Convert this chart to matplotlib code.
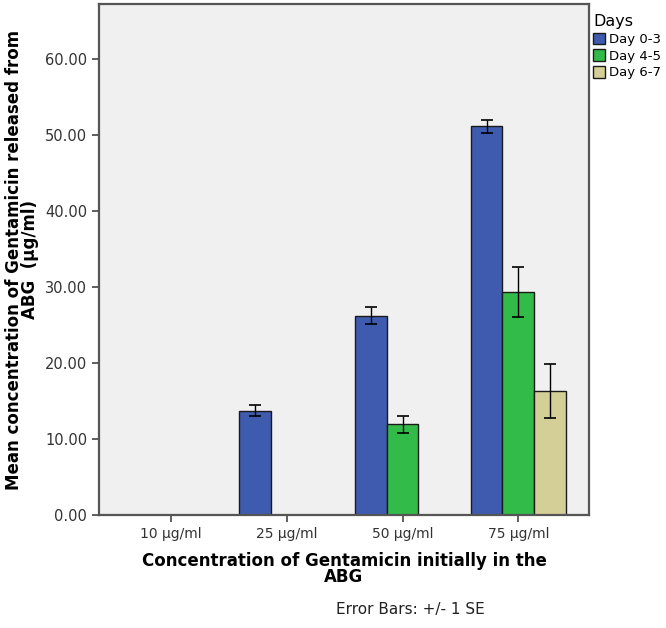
import matplotlib
matplotlib.use("Agg")
import matplotlib.pyplot as plt
import numpy as np
from matplotlib.patches import Patch

categories = ['10 µg/ml', '25 µg/ml', '50 µg/ml', '75 µg/ml']
days = ['Day 0-3', 'Day 4-5', 'Day 6-7']
# nan = no bar drawn for that group
means = {
    'Day 0-3': [np.nan, 13.7, 26.2, 51.1],
    'Day 4-5': [np.nan, np.nan, 11.9, 29.3],
    'Day 6-7': [np.nan, np.nan, np.nan, 16.3],
}
errors = {
    'Day 0-3': [np.nan, 0.7, 1.1, 0.85],
    'Day 4-5': [np.nan, np.nan, 1.15, 3.3],
    'Day 6-7': [np.nan, np.nan, np.nan, 3.6],
}
colors = {'Day 0-3': '#3f5bb0', 'Day 4-5': '#33bb4a', 'Day 6-7': '#d4cf96'}
yticks = [0, 10, 20, 30, 40, 50, 60]

fig = plt.figure(figsize=(6.66, 6.28), dpi=100)
ax = fig.add_axes([0.1486, 0.18, 0.7357, 0.8137])
ax.set_facecolor('#f0f0f0')

x = np.arange(len(categories))
w = 0.274
for i, d in enumerate(days):
    vals = np.array(means[d])
    errs = np.array(errors[d])
    ok = ~np.isnan(vals)
    xpos = x[ok] + (i - 1) * w
    ax.bar(xpos, vals[ok], w, color=colors[d], edgecolor='#1a1a1a',
           linewidth=1.0, zorder=2)
    ax.errorbar(xpos, vals[ok], yerr=errs[ok], fmt='none', ecolor='black',
                elinewidth=1.0, capsize=4, capthick=1.2, zorder=3)

ax.set_xlim(-0.622, 3.61)
ax.set_ylim(0, 67.2)
ax.set_xticks(x)
ax.set_xticklabels(categories, fontsize=10, color='#333333')
ax.set_yticks(yticks)
ax.set_yticklabels([f'{v:.2f}' for v in yticks], fontsize=10.5, color='#333333')
ax.tick_params(direction='out', length=5, width=1.2, color='#444444')
for s in ax.spines.values():
    s.set_color('#555555')
    s.set_linewidth(1.6)

ax.set_ylabel('Mean concentration of Gentamicin released from\nABG  (µg/ml)',
              fontsize=12, fontweight='bold', labelpad=4, linespacing=0.9)
ax.set_xlabel('Concentration of Gentamicin initially in the\nABG',
              fontsize=12, fontweight='bold', labelpad=8, linespacing=0.9)
fig.text(0.616, 0.022, 'Error Bars: +/- 1 SE', ha='center', fontsize=11,
         color='#222222')

handles = [Patch(facecolor=colors[d], edgecolor='#1a1a1a', label=d) for d in days]
leg = ax.legend(handles=handles, title='Days', loc='upper left',
                bbox_to_anchor=(1.003, 0.985), frameon=False, fontsize=9.5,
                title_fontsize=11.5, handlelength=0.9, handleheight=1.0,
                handletextpad=0.3, labelspacing=0.25, borderaxespad=0,
                borderpad=0.2)
leg._legend_box.align = 'left'

fig.savefig('out.png', dpi=100)
